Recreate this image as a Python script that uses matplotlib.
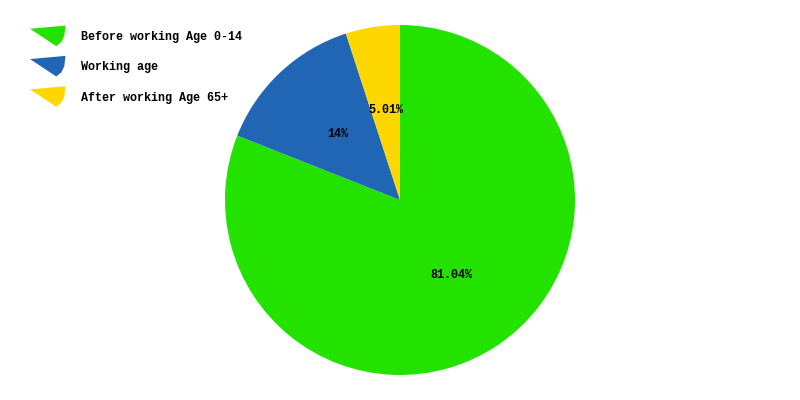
import matplotlib
matplotlib.use('Agg')
import matplotlib.pyplot as plt
from matplotlib.patches import Polygon
from matplotlib.legend_handler import HandlerPatch

labels = ['Before working Age 0-14', 'Working age', 'After working Age 65+']
values = [81.04, 14, 5.01]
pct_labels = ['81.04%', '14%', '5.01%']
colors = ['#24e200', '#2066b4', '#ffd700']

FONT = {'family': 'Liberation Mono', 'weight': 'bold', 'size': 8.5}


class WedgeHandler(HandlerPatch):
    # legend key drawn as a small wedge, like the original chart
    def create_artists(self, legend, orig_handle, xdescent, ydescent,
                       width, height, fontsize, trans):
        cy = -ydescent + height / 2
        w = width
        pts = [(-xdescent, cy + 0.2 * w), (-xdescent + w, cy + 0.29 * w),
               (-xdescent + 0.97 * w, cy), (-xdescent + 0.88 * w, cy - 0.18 * w),
               (-xdescent + 0.74 * w, cy - 0.29 * w)]
        p = Polygon(pts, closed=True, facecolor=orig_handle.get_facecolor(),
                    edgecolor='none', transform=trans)
        return [p]


fig = plt.figure(figsize=(8, 4), dpi=100)
ax = fig.add_axes([0, 0, 1, 1])
wedges, texts = ax.pie(values, colors=colors, startangle=90, counterclock=False,
                       labels=pct_labels, labeldistance=0.52,
                       wedgeprops={'linewidth': 0}, normalize=True)
for t in texts:
    t.set_ha('center')
    t.set_va('center')
    t.set_fontproperties(matplotlib.font_manager.FontProperties(**FONT))
    t.set_color('black')

r = 175
ax.set_xlim(-400 / r, 400 / r)
ax.set_ylim(-200 / r, 200 / r)
ax.set_aspect('equal')
ax.axis('off')

handles = [Polygon([(0, 0)], facecolor=c) for c in colors]
leg = fig.legend(handles, labels, loc='upper left',
                 bbox_to_anchor=(30 / 800, 1 - 31 / 400), frameon=False,
                 borderpad=0, borderaxespad=0, handlelength=3.0,
                 handletextpad=1.3, labelspacing=1.55,
                 prop=FONT, handler_map={Polygon: WedgeHandler()})

fig.savefig('out.png', dpi=100, facecolor='white')
